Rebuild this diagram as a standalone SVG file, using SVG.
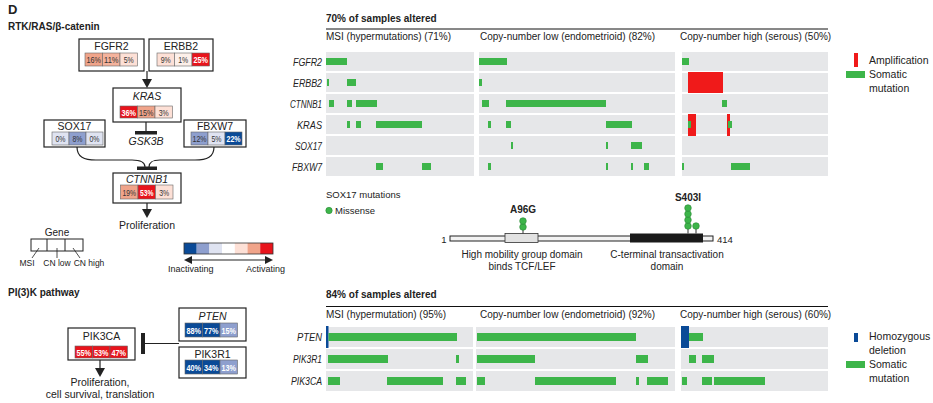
<svg xmlns="http://www.w3.org/2000/svg" width="933" height="403" viewBox="0 0 933 403">
<style>
text{font-family:"Liberation Sans",Arial,sans-serif;fill:#222}
.b{font-weight:bold}
.i{font-style:italic}
.m{text-anchor:middle}
.e{text-anchor:end}
.box{fill:#fff;stroke:#222;stroke-width:1.2}
.cell{stroke:#666;stroke-width:0.6}
.ct{font-size:9.5px;text-anchor:middle;fill:#333}
.cw{font-size:9.5px;text-anchor:middle;fill:#fff;font-weight:bold}
.pn{fill:#e6e7e9}
.g{fill:#3db54a}
.r{fill:#f01a1a}
.bl{fill:#0a4a97}
.ln{stroke:#222;stroke-width:1.2;fill:none}
.ah{fill:#222}
.dot{fill:#3db54a;stroke:#2a8a35;stroke-width:0.6}
.gl{font-size:10.5px;font-style:italic;text-anchor:end}
</style>

<text x="8" y="14" class="b" font-size="13">D</text>
<text x="8" y="30" class="b" font-size="10">RTK/RAS/β-catenin</text>
<text x="8" y="296" class="b" font-size="10">PI(3)K pathway</text>

<g id="node-FGFR2">
<rect class="box" x="79" y="39" width="65" height="32"/>
<text x="111.5" y="50" class="m" font-size="10.5">FGFR2</text>
<rect class="cell" x="85" y="53" width="17.5" height="13" fill="#f0a48a"/>
<rect class="cell" x="102.5" y="53" width="17.5" height="13" fill="#f4b39d"/>
<rect class="cell" x="120" y="53" width="17.5" height="13" fill="#fde0d6"/>
<text class="ct" x="93.75" y="63" textLength="14.5" lengthAdjust="spacingAndGlyphs">16%</text>
<text class="ct" x="111.25" y="63" textLength="14.5" lengthAdjust="spacingAndGlyphs">11%</text>
<text class="ct" x="128.75" y="63" textLength="10" lengthAdjust="spacingAndGlyphs">5%</text>
</g>

<g id="node-ERBB2">
<rect class="box" x="149" y="39" width="64" height="32"/>
<text x="181" y="50" class="m" font-size="10.5">ERBB2</text>
<rect class="cell" x="157" y="53" width="17.5" height="13" fill="#fde0d6"/>
<rect class="cell" x="174.5" y="53" width="17.5" height="13" fill="#fdf0ea"/>
<rect class="cell" x="192" y="53" width="17.5" height="13" fill="#e8141c"/>
<text class="ct" x="165.75" y="63" textLength="10" lengthAdjust="spacingAndGlyphs">9%</text>
<text class="ct" x="183.25" y="63" textLength="10" lengthAdjust="spacingAndGlyphs">1%</text>
<text class="cw" x="200.75" y="63" textLength="14.5" lengthAdjust="spacingAndGlyphs">25%</text>
</g>

<g id="node-KRAS">
<rect class="box" x="113" y="88" width="68" height="34"/>
<text x="147" y="100" class="m i" font-size="10.5">KRAS</text>
<rect class="cell" x="120" y="106" width="17.5" height="12" fill="#e8141c"/>
<rect class="cell" x="137.5" y="106" width="17.5" height="12" fill="#f0a48a"/>
<rect class="cell" x="155" y="106" width="17.5" height="12" fill="#fde0d6"/>
<text class="cw" x="128.75" y="115.5" textLength="14.5" lengthAdjust="spacingAndGlyphs">36%</text>
<text class="ct" x="146.25" y="115.5" textLength="14.5" lengthAdjust="spacingAndGlyphs">15%</text>
<text class="ct" x="163.75" y="115.5" textLength="10" lengthAdjust="spacingAndGlyphs">3%</text>
</g>

<g id="node-SOX17">
<rect class="box" x="44" y="120" width="61" height="27"/>
<text x="74.5" y="129.5" class="m" font-size="10.5">SOX17</text>
<rect class="cell" x="52" y="132" width="17" height="13" fill="#dfe3f1"/>
<rect class="cell" x="69" y="132" width="17" height="13" fill="#8e9fce"/>
<rect class="cell" x="86" y="132" width="17" height="13" fill="#dfe3f1"/>
<text class="ct" x="60.5" y="142" textLength="10" lengthAdjust="spacingAndGlyphs">0%</text>
<text class="ct" x="77.5" y="142" textLength="10" lengthAdjust="spacingAndGlyphs">8%</text>
<text class="ct" x="94.5" y="142" textLength="10" lengthAdjust="spacingAndGlyphs">0%</text>
</g>

<g id="node-FBXW7">
<rect class="box" x="184" y="120" width="62" height="27"/>
<text x="215" y="129.5" class="m" font-size="10.5">FBXW7</text>
<rect class="cell" x="191" y="132" width="17" height="13" fill="#8e9fce"/>
<rect class="cell" x="208" y="132" width="17" height="13" fill="#dfe3f1"/>
<rect class="cell" x="225" y="132" width="17" height="13" fill="#0a4a97"/>
<text class="ct" x="199.5" y="142" textLength="14" lengthAdjust="spacingAndGlyphs">12%</text>
<text class="ct" x="216.5" y="142" textLength="10" lengthAdjust="spacingAndGlyphs">5%</text>
<text class="cw" x="233.5" y="142" textLength="14" lengthAdjust="spacingAndGlyphs">22%</text>
</g>

<g id="node-GSK3B">
<text x="146" y="145" class="m i" font-size="10.5">GSK3B</text>
</g>

<g id="node-CTNNB1">
<rect class="box" x="113" y="173" width="68" height="30"/>
<text x="147" y="182.5" class="m i" font-size="10.5">CTNNB1</text>
<rect class="cell" x="120.5" y="185" width="17.5" height="14" fill="#f0a48a"/>
<rect class="cell" x="138" y="185" width="17.5" height="14" fill="#e8141c"/>
<rect class="cell" x="155.5" y="185" width="17.5" height="14" fill="#fde0d6"/>
<text class="ct" x="129.25" y="196" textLength="13.5" lengthAdjust="spacingAndGlyphs">19%</text>
<text class="cw" x="146.75" y="196" textLength="13.5" lengthAdjust="spacingAndGlyphs">53%</text>
<text class="ct" x="164.25" y="196" textLength="10" lengthAdjust="spacingAndGlyphs">3%</text>
</g>

<g id="node-proliferation">
<text x="147" y="229" class="m" font-size="10.5">Proliferation</text>
</g>

<g id="node-PIK3CA">
<rect class="box" x="68" y="328" width="67" height="32"/>
<text x="101.5" y="340" class="m" font-size="10.5">PIK3CA</text>
<rect class="cell" x="75" y="346" width="17.5" height="12" fill="#e8141c"/>
<rect class="cell" x="92.5" y="346" width="17.5" height="12" fill="#e8141c"/>
<rect class="cell" x="110" y="346" width="17.5" height="12" fill="#e8141c"/>
<text class="cw" x="83.75" y="355.5" textLength="14.5" lengthAdjust="spacingAndGlyphs">55%</text>
<text class="cw" x="101.25" y="355.5" textLength="14.5" lengthAdjust="spacingAndGlyphs">53%</text>
<text class="cw" x="118.75" y="355.5" textLength="14.5" lengthAdjust="spacingAndGlyphs">47%</text>
</g>

<g id="node-PTEN">
<rect class="box" x="179" y="308" width="67" height="33"/>
<text x="212.5" y="319.5" class="m i" font-size="10.5">PTEN</text>
<rect class="cell" x="185" y="323" width="17.5" height="14" fill="#0a4a97"/>
<rect class="cell" x="202.5" y="323" width="17.5" height="14" fill="#0a4a97"/>
<rect class="cell" x="220" y="323" width="17.5" height="14" fill="#8e9fce"/>
<text class="cw" x="193.75" y="333.5" textLength="14.5" lengthAdjust="spacingAndGlyphs">88%</text>
<text class="cw" x="211.25" y="333.5" textLength="14.5" lengthAdjust="spacingAndGlyphs">77%</text>
<text class="cw" x="228.75" y="333.5" textLength="14.5" lengthAdjust="spacingAndGlyphs">15%</text>
</g>

<g id="node-PIK3R1">
<rect class="box" x="179" y="347" width="67" height="31"/>
<text x="212.5" y="357.5" class="m" font-size="10.5">PIK3R1</text>
<rect class="cell" x="185" y="360" width="17.5" height="14" fill="#0a4a97"/>
<rect class="cell" x="202.5" y="360" width="17.5" height="14" fill="#0a4a97"/>
<rect class="cell" x="220" y="360" width="17.5" height="14" fill="#8e9fce"/>
<text class="cw" x="193.75" y="370.5" textLength="14.5" lengthAdjust="spacingAndGlyphs">40%</text>
<text class="cw" x="211.25" y="370.5" textLength="14.5" lengthAdjust="spacingAndGlyphs">34%</text>
<text class="cw" x="228.75" y="370.5" textLength="14.5" lengthAdjust="spacingAndGlyphs">13%</text>
</g>

<g id="node-proliferation2">
<text x="100" y="386" class="m" font-size="10.5">Proliferation,</text>
<text x="100" y="398" class="m" font-size="10.5">cell survival, translation</text>
</g>

<g id="connectors">
<line class="ln" x1="147" y1="71" x2="147" y2="80"/>
<polygon class="ah" points="142,79 152,79 147,88"/>
<line class="ln" x1="146" y1="122" x2="146" y2="132"/>
<rect class="ah" x="135" y="131" width="22" height="3.5"/>
<path class="ln" d="M77,147 C77,157 84,160 96,160 L132,160 C141,160 145,162 145,167"/>
<path class="ln" d="M214,147 C214,157 207,160 195,160 L160,160 C152,160 149,162 149,167"/>
<rect class="ah" x="137" y="166.5" width="20" height="3.5"/>
<line class="ln" x1="147" y1="203" x2="147" y2="211"/>
<polygon class="ah" points="142,209 152,209 147,218"/>
<line class="ln" x1="145" y1="343.5" x2="179" y2="343.5"/>
<rect class="ah" x="141" y="333" width="4" height="21"/>
<line class="ln" x1="100" y1="360" x2="100" y2="369"/>
<polygon class="ah" points="95,368 105,368 100,377"/>
</g>

<g id="legend-gene">
<text x="57" y="236" class="m" font-size="10">Gene</text>
<rect x="31" y="239" width="52" height="12" fill="#fff" stroke="#222" stroke-width="1"/>
<line x1="47" y1="239" x2="47" y2="251" stroke="#222" stroke-width="1"/>
<line x1="65" y1="239" x2="65" y2="251" stroke="#222" stroke-width="1"/>
<line x1="39" y1="248" x2="32" y2="258" stroke="#222" stroke-width="0.8"/>
<line x1="57" y1="248" x2="57" y2="258" stroke="#222" stroke-width="0.8"/>
<line x1="73" y1="248" x2="80" y2="258" stroke="#222" stroke-width="0.8"/>
<text x="27" y="266" class="m" font-size="8.5">MSI</text>
<text x="57" y="266" class="m" font-size="8.5">CN low</text>
<text x="89" y="266" class="m" font-size="8.5">CN high</text>
</g>

<g id="legend-scale">
<rect x="184" y="243" width="12.7" height="11" fill="#0a4a97"/>
<rect x="196.7" y="243" width="12.7" height="11" fill="#8e9fce"/>
<rect x="209.4" y="243" width="12.7" height="11" fill="#dfe3f1"/>
<rect x="222.1" y="243" width="12.7" height="11" fill="#fff"/>
<rect x="234.8" y="243" width="12.7" height="11" fill="#fde0d6"/>
<rect x="247.5" y="243" width="12.7" height="11" fill="#f0a48a"/>
<rect x="260.2" y="243" width="12.8" height="11" fill="#e8141c"/>
<rect x="184" y="243" width="89" height="11" fill="none" stroke="#333" stroke-width="0.8"/>
<line x1="190" y1="260" x2="267" y2="260" stroke="#222" stroke-width="1.2"/>
<polygon class="ah" points="184,260 192,256 192,264"/>
<polygon class="ah" points="273,260 265,256 265,264"/>
<text x="168" y="272" font-size="9">Inactivating</text>
<text x="285" y="272" class="e" font-size="9">Activating</text>
</g>

<g id="oncoprint-top">
<text x="326" y="22" class="b" font-size="10">70% of samples altered</text>
<line x1="326" y1="29" x2="828" y2="29" stroke="#111" stroke-width="1"/>
<text x="326" y="40" font-size="10">MSI (hypermutations) (71%)</text>
<text x="480" y="40" font-size="10">Copy-number low (endometrioid) (82%)</text>
<text x="680" y="40" font-size="10">Copy-number high (serous) (50%)</text>
<text x="322" y="66" class="gl" textLength="29" lengthAdjust="spacingAndGlyphs">FGFR2</text>
<text x="322" y="87" class="gl" textLength="29" lengthAdjust="spacingAndGlyphs">ERBB2</text>
<text x="322" y="108" class="gl" textLength="32" lengthAdjust="spacingAndGlyphs">CTNNB1</text>
<text x="322" y="129" class="gl" textLength="25" lengthAdjust="spacingAndGlyphs">KRAS</text>
<text x="322" y="150" class="gl" textLength="27" lengthAdjust="spacingAndGlyphs">SOX17</text>
<text x="322" y="171" class="gl" textLength="30" lengthAdjust="spacingAndGlyphs">FBXW7</text>
<g>
<rect class="pn" x="326" y="52" width="148" height="19"/><rect class="pn" x="479" y="52" width="196" height="19"/><rect class="pn" x="682" y="52" width="146" height="19"/>
<rect class="pn" x="326" y="73" width="148" height="19"/><rect class="pn" x="479" y="73" width="196" height="19"/><rect class="pn" x="682" y="73" width="146" height="19"/>
<rect class="pn" x="326" y="94" width="148" height="19"/><rect class="pn" x="479" y="94" width="196" height="19"/><rect class="pn" x="682" y="94" width="146" height="19"/>
<rect class="pn" x="326" y="115" width="148" height="19"/><rect class="pn" x="479" y="115" width="196" height="19"/><rect class="pn" x="682" y="115" width="146" height="19"/>
<rect class="pn" x="326" y="136" width="148" height="19"/><rect class="pn" x="479" y="136" width="196" height="19"/><rect class="pn" x="682" y="136" width="146" height="19"/>
<rect class="pn" x="326" y="157" width="148" height="19"/><rect class="pn" x="479" y="157" width="196" height="19"/><rect class="pn" x="682" y="157" width="146" height="19"/>
</g>
<g>
<rect class="g" x="326" y="58" width="21" height="7"/><rect class="g" x="479" y="58" width="28" height="7"/><rect class="g" x="682" y="58" width="7" height="7"/>
<rect class="g" x="327" y="79" width="2" height="7"/><rect class="g" x="347" y="79" width="9" height="7"/><rect class="g" x="479" y="79" width="3" height="7"/>
<rect class="r" x="688" y="72" width="35" height="21"/>
<rect class="g" x="329" y="100" width="5" height="7"/><rect class="g" x="347" y="100" width="5" height="7"/><rect class="g" x="356" y="100" width="21" height="7"/><rect class="g" x="482" y="100" width="7" height="7"/><rect class="g" x="506" y="100" width="100" height="7"/><rect class="g" x="722" y="100" width="5" height="7"/>
<rect class="g" x="347" y="121" width="3" height="7"/><rect class="g" x="356" y="121" width="5" height="7"/><rect class="g" x="376" y="121" width="46" height="7"/><rect class="g" x="488" y="121" width="3" height="7"/><rect class="g" x="506" y="121" width="5" height="7"/><rect class="g" x="606" y="121" width="26" height="7"/>
<rect class="r" x="688" y="114" width="8" height="22"/><rect class="r" x="727" y="114" width="3" height="22"/>
<rect class="g" x="688" y="121" width="3" height="7"/><rect class="g" x="728" y="121" width="4" height="7"/>
<rect class="g" x="511" y="142" width="2" height="7"/><rect class="g" x="606" y="142" width="2" height="7"/><rect class="g" x="631" y="142" width="11" height="7"/>
<rect class="g" x="376" y="163" width="7" height="7"/><rect class="g" x="422" y="163" width="9" height="7"/><rect class="g" x="488" y="163" width="3" height="7"/><rect class="g" x="606" y="163" width="2" height="7"/><rect class="g" x="631" y="163" width="2" height="7"/><rect class="g" x="644" y="163" width="5" height="7"/><rect class="g" x="682" y="163" width="2" height="7"/><rect class="g" x="731" y="163" width="19" height="7"/>
</g>
<rect class="r" x="854" y="53" width="4" height="14"/>
<text x="869" y="64" font-size="10.5">Amplification</text>
<rect class="g" x="846" y="71" width="19" height="7"/>
<text x="869" y="78" font-size="10.5">Somatic</text>
<text x="869" y="92" font-size="10.5">mutation</text>
</g>

<g id="lollipop">
<text x="326" y="198" font-size="9.5">SOX17 mutations</text>
<circle class="dot" cx="329" cy="210.5" r="3.2"/>
<text x="335" y="214" font-size="9.5">Missense</text>
<rect x="450" y="236" width="263" height="5" fill="#f2f2f2" stroke="#222" stroke-width="1"/>
<rect x="505" y="233.5" width="33" height="9" fill="#e2e2e2" stroke="#333" stroke-width="0.8"/>
<rect x="630" y="233.5" width="73" height="9" fill="#1a1a1a"/>
<line x1="523" y1="233.5" x2="523" y2="221" stroke="#333" stroke-width="1"/>
<circle class="dot" cx="523" cy="227" r="3.3"/>
<circle class="dot" cx="523" cy="221" r="3.3"/>
<line x1="688" y1="233.5" x2="688" y2="208" stroke="#333" stroke-width="1"/>
<line x1="696" y1="233.5" x2="696" y2="226" stroke="#333" stroke-width="1"/>
<circle class="dot" cx="688" cy="226" r="3.3"/>
<circle class="dot" cx="688" cy="220" r="3.3"/>
<circle class="dot" cx="688" cy="214" r="3.3"/>
<circle class="dot" cx="688" cy="208" r="3.3"/>
<circle class="dot" cx="696" cy="226" r="3.3"/>
<text x="523" y="213" class="b m" font-size="10">A96G</text>
<text x="688" y="201" class="b m" font-size="10">S403I</text>
<text x="444" y="243" class="m" font-size="9.5">1</text>
<text x="717" y="243" font-size="9.5">414</text>
<text x="522" y="258" class="m" font-size="10">High mobility group domain</text>
<text x="522" y="270" class="m" font-size="10">binds TCF/LEF</text>
<text x="667" y="258" class="m" font-size="10">C-terminal transactivation</text>
<text x="667" y="270" class="m" font-size="10">domain</text>
</g>

<g id="oncoprint-bottom">
<text x="326" y="298" class="b" font-size="10">84% of samples altered</text>
<line x1="326" y1="306.5" x2="828" y2="306.5" stroke="#111" stroke-width="1"/>
<text x="326" y="318" font-size="10">MSI (hypermutation) (95%)</text>
<text x="480" y="318" font-size="10">Copy-number low (endometrioid) (92%)</text>
<text x="680" y="318" font-size="10">Copy-number high (serous) (60%)</text>
<text x="322" y="341" class="gl" textLength="25" lengthAdjust="spacingAndGlyphs">PTEN</text>
<text x="322" y="363" class="gl" textLength="29" lengthAdjust="spacingAndGlyphs">PIK3R1</text>
<text x="322" y="385" class="gl" textLength="31" lengthAdjust="spacingAndGlyphs">PIK3CA</text>
<g>
<rect class="pn" x="326" y="327" width="147" height="20"/><rect class="pn" x="476" y="327" width="199" height="20"/><rect class="pn" x="681" y="327" width="147" height="20"/>
<rect class="pn" x="326" y="349" width="147" height="20"/><rect class="pn" x="476" y="349" width="199" height="20"/><rect class="pn" x="681" y="349" width="147" height="20"/>
<rect class="pn" x="326" y="371" width="147" height="20"/><rect class="pn" x="476" y="371" width="199" height="20"/><rect class="pn" x="681" y="371" width="147" height="20"/>
</g>
<g>
<rect class="bl" x="326" y="326" width="2.5" height="22"/>
<rect class="g" x="328.5" y="333" width="128.5" height="8"/><rect class="g" x="477" y="333" width="159" height="8"/>
<rect class="bl" x="681" y="326" width="8" height="22"/><rect class="g" x="689" y="333" width="14" height="8"/>
<rect class="g" x="328" y="355" width="60" height="8"/><rect class="g" x="456" y="355" width="3" height="8"/><rect class="g" x="477" y="355" width="58" height="8"/><rect class="g" x="636" y="355" width="12" height="8"/><rect class="g" x="689" y="355" width="7" height="8"/><rect class="g" x="702" y="355" width="12" height="8"/>
<rect class="g" x="328" y="377" width="12" height="8"/><rect class="g" x="387" y="377" width="56" height="8"/><rect class="g" x="456" y="377" width="10" height="8"/><rect class="g" x="477" y="377" width="8" height="8"/><rect class="g" x="535" y="377" width="81" height="8"/><rect class="g" x="636" y="377" width="3" height="8"/><rect class="g" x="647" y="377" width="21" height="8"/><rect class="g" x="682" y="377" width="5" height="8"/><rect class="g" x="702" y="377" width="10" height="8"/><rect class="g" x="714" y="377" width="51" height="8"/>
</g>
<rect class="bl" x="854" y="333" width="4" height="9"/>
<text x="869" y="340" font-size="10.5">Homozygous</text>
<text x="869" y="354" font-size="10.5">deletion</text>
<rect class="g" x="846" y="361" width="19" height="7"/>
<text x="869" y="368" font-size="10.5">Somatic</text>
<text x="869" y="382" font-size="10.5">mutation</text>
</g>
</svg>
